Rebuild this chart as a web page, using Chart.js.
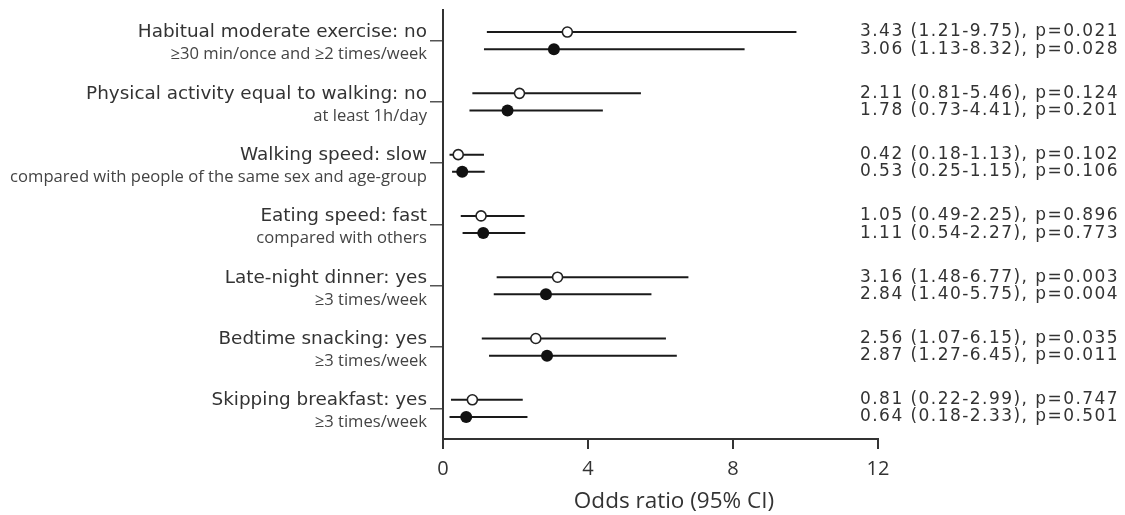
<!DOCTYPE html>
<html>
<head>
<meta charset="utf-8">
<script src="https://cdn.jsdelivr.net/npm/chart.js@4/dist/chart.umd.min.js"></script>
<style>
    body { margin: 0; background: #fff; }
    #wrap { width: 1125px; height: 515px; position: relative; }
</style>
</head>
<body>
<div id="wrap"><canvas id="forest"></canvas></div>
<script>
const groupLabels = [
    "Habitual moderate exercise: no",
    "Physical activity equal to walking: no",
    "Walking speed: slow",
    "Eating speed: fast",
    "Late-night dinner: yes",
    "Bedtime snacking: yes",
    "Skipping breakfast: yes"
];
const subLabels = [
    "≥30 min/once and ≥2 times/week",
    "at least 1h/day",
    "compared with people of the same sex and age-group",
    "compared with others",
    "≥3 times/week",
    "≥3 times/week",
    "≥3 times/week"
];
const groupPos = [1, 2, 3, 4, 5, 6, 7];

// open circles (upper row of each group)
const openOR = [3.43, 2.11, 0.42, 1.05, 3.16, 2.56, 0.81];
const openLo = [1.21, 0.81, 0.18, 0.49, 1.48, 1.07, 0.22];
const openHi = [9.75, 5.46, 1.13, 2.25, 6.77, 6.15, 2.2];
const openText = [
    "3.43 (1.21-9.75), p=0.021",
    "2.11 (0.81-5.46), p=0.124",
    "0.42 (0.18-1.13), p=0.102",
    "1.05 (0.49-2.25), p=0.896",
    "3.16 (1.48-6.77), p=0.003",
    "2.56 (1.07-6.15), p=0.035",
    "0.81 (0.22-2.99), p=0.747"
];

// filled circles (lower row of each group)
const filledOR = [3.06, 1.78, 0.53, 1.11, 2.84, 2.87, 0.64];
const filledLo = [1.13, 0.73, 0.25, 0.54, 1.40, 1.27, 0.18];
const filledHi = [8.32, 4.41, 1.15, 2.27, 5.75, 6.45, 2.33];
const filledText = [
    "3.06 (1.13-8.32), p=0.028",
    "1.78 (0.73-4.41), p=0.201",
    "0.53 (0.25-1.15), p=0.106",
    "1.11 (0.54-2.27), p=0.773",
    "2.84 (1.40-5.75), p=0.004",
    "2.87 (1.27-6.45), p=0.011",
    "0.64 (0.18-2.33), p=0.501"
];

const xTicks = [0, 4, 8, 12];
const xTitle = "Odds ratio (95% CI)";
const rowShift = 0.14;

function rows(values, shift) {
    return values.map(function (v, i) {
        return { x: v, y: groupPos[i] + shift };
    });
}

const ciPlugin = {
    id: "ciLines",
    beforeDatasetsDraw: function (chart) {
        var ctx = chart.ctx;
        var xs = chart.scales.x, ys = chart.scales.y;
        ctx.save();
        ctx.strokeStyle = "#1a1a1a";
        ctx.lineWidth = 2;
        function seg(lo, hi, y) {
            ctx.beginPath();
            ctx.moveTo(xs.getPixelForValue(lo), ys.getPixelForValue(y));
            ctx.lineTo(xs.getPixelForValue(hi), ys.getPixelForValue(y));
            ctx.stroke();
        }
        groupPos.forEach(function (p, i) {
            seg(openLo[i], openHi[i], p - rowShift);
            seg(filledLo[i], filledHi[i], p + rowShift);
        });
        ctx.restore();
    },
    afterDraw: function (chart) {
        var ctx = chart.ctx;
        var ys = chart.scales.y;
        var left = chart.chartArea.left;
        ctx.save();
        ctx.textBaseline = "middle";
        // left labels
        ctx.textAlign = "right";
        groupPos.forEach(function (p, i) {
            var yc = ys.getPixelForValue(p);
            ctx.fillStyle = "#333";
            ctx.font = "18.4px 'DejaVu Sans'";
            ctx.fillText(groupLabels[i], left - 16, yc - 8);
            ctx.fillStyle = "#444";
            ctx.font = "16.6px 'Open Sans'";
            ctx.fillText(subLabels[i], left - 16, yc + 14);
        });
        // axis title
        ctx.textAlign = "center";
        ctx.fillStyle = "#333";
        ctx.font = "22.5px 'Open Sans'";
        ctx.fillText(xTitle, 674, 502);
        // right estimates
        ctx.textAlign = "left";
        ctx.font = "17px 'DejaVu Sans'";
        ctx.letterSpacing = "1.45px";
        groupPos.forEach(function (p, i) {
            ctx.fillText(openText[i], 860, ys.getPixelForValue(p - rowShift));
            ctx.fillText(filledText[i], 860, ys.getPixelForValue(p + rowShift));
        });
        ctx.restore();
    }
};

var ctx = document.getElementById("forest").getContext("2d");
new Chart(ctx, {
    type: "scatter",
    data: {
        datasets: [
            {
                label: "open",
                data: rows(openOR, -rowShift),
                pointRadius: 5,
                pointBorderWidth: 1.6,
                pointBackgroundColor: "#fff",
                pointBorderColor: "#222"
            },
            {
                label: "filled",
                data: rows(filledOR, rowShift),
                pointRadius: 6,
                pointBorderWidth: 0,
                pointBackgroundColor: "#111",
                pointBorderColor: "#111"
            }
        ]
    },
    options: {
        responsive: true,
        maintainAspectRatio: false,
        animation: false,
        layout: { padding: { top: 10, right: 247, left: 0, bottom: 0 } },
        plugins: {
            legend: { display: false },
            tooltip: { enabled: false }
        },
        scales: {
            x: {
                type: "linear",
                min: 0,
                max: 12,
                afterFit: function (s) { s.height = 76; },
                afterBuildTicks: function (s) {
                    s.ticks = xTicks.map(function (v) { return { value: v }; });
                },
                grid: { drawOnChartArea: false, drawTicks: true, tickLength: 10, color: "#333", lineWidth: 2 },
                border: { color: "#333", width: 2 },
                ticks: { color: "#333", font: { family: "Open Sans", size: 20 }, padding: 8 }
            },
            y: {
                type: "linear",
                min: 0.5,
                max: 7.5,
                reverse: true,
                afterFit: function (s) { s.width = 443; },
                afterBuildTicks: function (s) {
                    s.ticks = groupPos.map(function (v) { return { value: v }; });
                },
                grid: { drawOnChartArea: false, drawTicks: true, tickLength: 13, color: "#555", lineWidth: 1.5 },
                border: { color: "#333", width: 2 },
                ticks: { display: false }
            }
        }
    },
    plugins: [ciPlugin]
});
</script>
</body>
</html>
